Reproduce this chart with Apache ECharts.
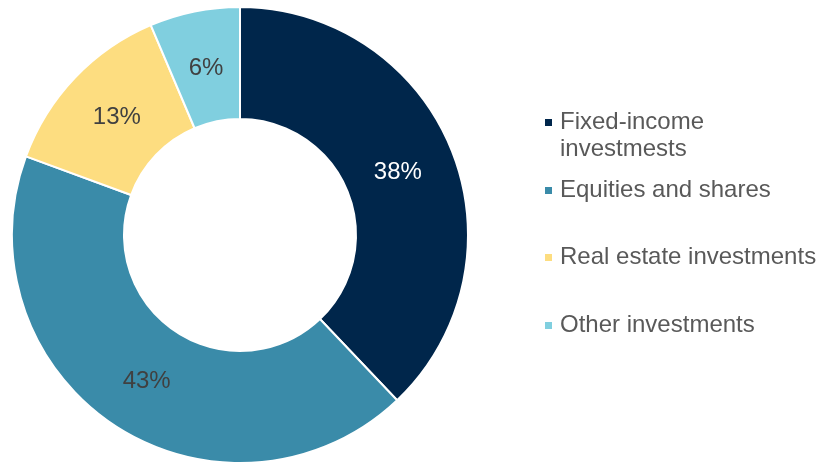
<!DOCTYPE html>
<html>
<head>
<meta charset="utf-8">
<script src="https://cdn.jsdelivr.net/npm/echarts@6/dist/echarts.min.js"></script>
<style>
  html, body { margin: 0; padding: 0; background: #fff; }
  #chart { width: 825px; height: 465px; }
</style>
</head>
<body>
<div id="chart"></div>
<script>
// 数据（扇区角度按原图量出来的，标签取整）
var categories = ['Fixed-income investmests', 'Equities and shares', 'Real estate investments', 'Other investments'];
var values = [37.9, 42.7, 13.0, 6.4];
var colors = ['#00264b', '#3a8ba9', '#fddd80', '#80cfdf'];
var labelColors = ['#ffffff', '#404040', '#404040', '#404040'];

var myChart = echarts.init(document.getElementById('chart'));

// 标签微调，跟原图对齐（水平用padding，上半圈的往下垫一个空行）
var total = 0;
for (var k = 0; k < values.length; k++) total += values[k];
var pieData = [];
var acc = 0;
for (var i = 0; i < categories.length; i++) {
    var phi = (acc + values[i] / 2) / total * Math.PI * 2; // 从12点顺时针
    acc += values[i];
    var sx = -5 * Math.sin(phi);
    var sy = 5 * Math.cos(phi);
    var txt = '{v|' + Math.round(values[i]) + '%}';
    pieData.push({
        name: categories[i],
        value: values[i],
        itemStyle: { color: colors[i] },
        label: {
            padding: [0, Math.max(0, -2 * sx), 0, Math.max(0, 2 * sx)],
            formatter: sy > 0 ? '{s| }\n' + txt : txt,
            rich: {
                v: { color: labelColors[i], fontSize: 24, fontFamily: 'Liberation Sans, Arial, sans-serif' },
                s: { fontSize: 1, height: 2 * sy, lineHeight: 2 * sy }
            }
        }
    });
}

// 每个图例单独放，位置跟原图对齐
var legendTops = [82, 177, 244, 312];
var legends = [];
for (var j = 0; j < categories.length; j++) {
    legends.push({
        orient: 'vertical',
        left: 543,
        top: legendTops[j],
        padding: 0,
        icon: 'rect',
        itemWidth: 9,
        itemHeight: 9,
        itemGap: 0,
        data: [categories[j]],
        formatter: function (name) {
            // 第一项两行，前面加空行让方块对齐第一行
            if (name === categories[0]) return ' \nFixed-income\ninvestmests';
            return name;
        },
        textStyle: {
            fontFamily: 'Liberation Sans, Arial, sans-serif',
            fontSize: 24,
            color: '#595959',
            lineHeight: 27,
            padding: [0, 0, 0, 2]
        },
        selectedMode: false
    });
}

var option = {
    animation: false,
    legend: legends,
    series: [{
        name: 'MAP',
        type: 'pie',
        center: [240, 235],
        radius: [116, 228],
        startAngle: 90,
        clockwise: true,
        avoidLabelOverlap: false,
        itemStyle: {
            borderColor: '#ffffff',
            borderWidth: 2
        },
        label: {
            show: true,
            position: 'inside',
            fontFamily: 'Liberation Sans, Arial, sans-serif',
            fontSize: 24
        },
        labelLine: { show: false },
        emphasis: { disabled: true },
        data: pieData
    }]
};
myChart.setOption(option);
</script>
</body>
</html>
